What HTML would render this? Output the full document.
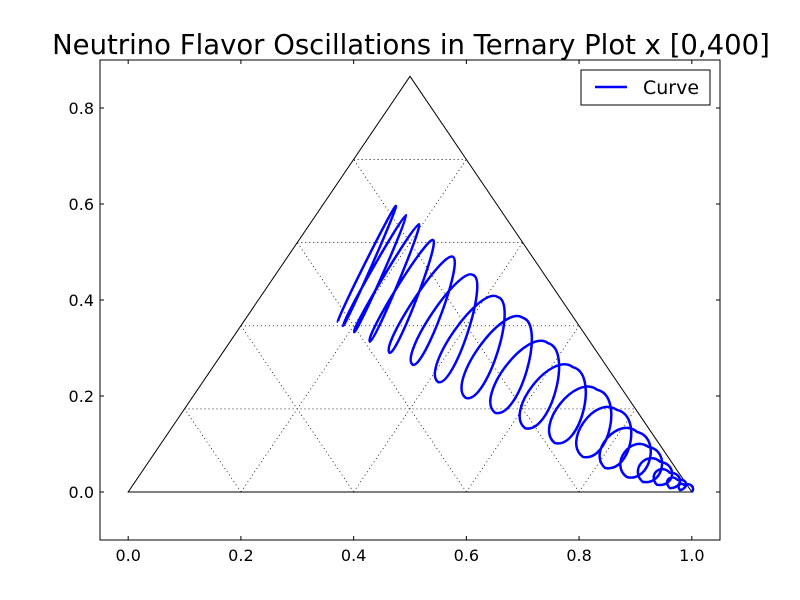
<!DOCTYPE html>
<html><head><meta charset="utf-8"><style>body{margin:0;background:#fff}svg{display:block;font-family:"DejaVu Sans","Liberation Sans",sans-serif}</style></head>
<body>
<svg id="chart" width="800" height="600" viewBox="0 0 800 600">
<rect width="800" height="600" fill="#fff"/>
<text x="411" y="54" font-size="27.5" text-anchor="middle">Neutrino Flavor Oscillations in Ternary Plot x [0,400]</text>
<g id="grid"></g>
<g id="tri"></g>
<g id="curve"></g>
<rect x="100" y="60" width="620" height="480" fill="none" stroke="#000" stroke-width="1"/>
<g id="ticks"></g>
<g>
<rect x="581" y="70" width="129" height="35" fill="#fff" stroke="#000"/>
<line x1="595" y1="87" x2="627" y2="87" stroke="#0000ff" stroke-width="2.5"/>
<text x="643" y="94" font-size="19">Curve</text>
</g>
</svg>
<script>
const xTicks=[0,0.2,0.4,0.6,0.8,1.0];
const xTickLabels=["0.0","0.2","0.4","0.6","0.8","1.0"];
const yTicks=[0,0.2,0.4,0.6,0.8];
const yTickLabels=["0.0","0.2","0.4","0.6","0.8"];
const gridFractions=[0.2,0.4,0.6,0.8];
const bottomX=[.372,.381,.401,.429,.464,.505,.550,.599,.651,.704,.757,.807,.846,.885,.913,.938,.961,.979];
const bottomY=[.354,.346,.333,.313,.290,.265,.229,.196,.165,.133,.102,.073,.050,.031,.021,.015,.008,.004];
const topX=[.475,.493,.516,.541,.576,.612,.656,.700,.745,.789,.832,.867,.903,.923,.944,.961,.975,.988];
const topY=[.596,.577,.558,.525,.490,.452,.406,.363,.310,.260,.213,.171,.125,.094,.063,.040,.025,.013];
const loopWidth=[.007,.009,.012,.02,.032,.045,.058,.066,.07,.072,.072,.07,.065,.058,.048,.036,.026,.016];
const endPoint=[1.0,0.0];

const NS="http://www.w3.org/2000/svg";
const X0=-0.05,X1=1.05,Y0=-0.1,Y1=0.9,L=100,R=720,T=60,B=540;
const sx=v=>L+(v-X0)/(X1-X0)*(R-L);
const sy=v=>B-(v-Y0)/(Y1-Y0)*(B-T);
const kx=(R-L)/(X1-X0);
const H=Math.sqrt(3)/2;
function mk(tag,attrs,parent){const e=document.createElementNS(NS,tag);for(const k in attrs)e.setAttribute(k,attrs[k]);parent.appendChild(e);return e;}
const grid=document.getElementById('grid');
gridFractions.forEach(t=>{
 const segs=[[t/2,t*H,1-t/2,t*H],[t,0,(1+t)/2,(1-t)*H],[t,0,t/2,t*H]];
 segs.forEach(s=>{
  const l=mk('line',{x1:sx(s[0]),y1:sy(s[1]),x2:sx(s[2]),y2:sy(s[3]),stroke:'#000','stroke-width':0.8,'stroke-dasharray':'1,3'},grid);
  
  
 });
});
const tri=document.getElementById('tri');
const tp=mk('polygon',{points:`${sx(0)},${sy(0)} ${sx(1)},${sy(0)} ${sx(0.5)},${sy(H)}`,fill:'none',stroke:'#000','stroke-width':1},tri);



const P=(x,y)=>[sx(x),sy(y)];
function half(a,b,w,side){
 const dx=b[0]-a[0],dy=b[1]-a[1],len=Math.hypot(dx,dy)||1;
 const ux=dx/len,uy=dy/len;const px=uy*side,py=-ux*side;const o=4/3*w/2;
 return ` C${a[0]+px*o},${a[1]+py*o} ${b[0]+px*o},${b[1]+py*o} ${b[0]},${b[1]}`;
}
let d='';
let cur=P(bottomX[0],bottomY[0]);
d+=`M${cur[0]},${cur[1]}`;
for(let i=0;i<topX.length;i++){
 const w=loopWidth[i]*kx;
 const t=P(topX[i],topY[i]);
 d+=half(cur,t,w,1);
 const nb=i+1<bottomX.length?P(bottomX[i+1],bottomY[i+1]):P(endPoint[0],endPoint[1]);
 d+=half(t,nb,w,1);
 cur=nb;
}
const cp=mk('path',{d:d,fill:'none',stroke:'#0000ff','stroke-width':2.5,'stroke-linejoin':'round'},document.getElementById('curve'));



const tk=document.getElementById('ticks');
xTicks.forEach((v,i)=>{
 const x=sx(v);
 mk('line',{x1:x,y1:B,x2:x,y2:B-4,stroke:'#000'},tk);
 mk('line',{x1:x,y1:T,x2:x,y2:T+4,stroke:'#000'},tk);
 const t=mk('text',{x:x,y:B+21,'font-size':16,'text-anchor':'middle'},tk);t.textContent=xTickLabels[i];
 
 
});
yTicks.forEach((v,i)=>{
 const y=sy(v);
 mk('line',{x1:L,y1:y,x2:L+4,y2:y,stroke:'#000'},tk);
 mk('line',{x1:R,y1:y,x2:R-4,y2:y,stroke:'#000'},tk);
 const t=mk('text',{x:L-6,y:y+6,'font-size':16,'text-anchor':'end'},tk);t.textContent=yTickLabels[i];
 
 
});
</script>
</body></html>
